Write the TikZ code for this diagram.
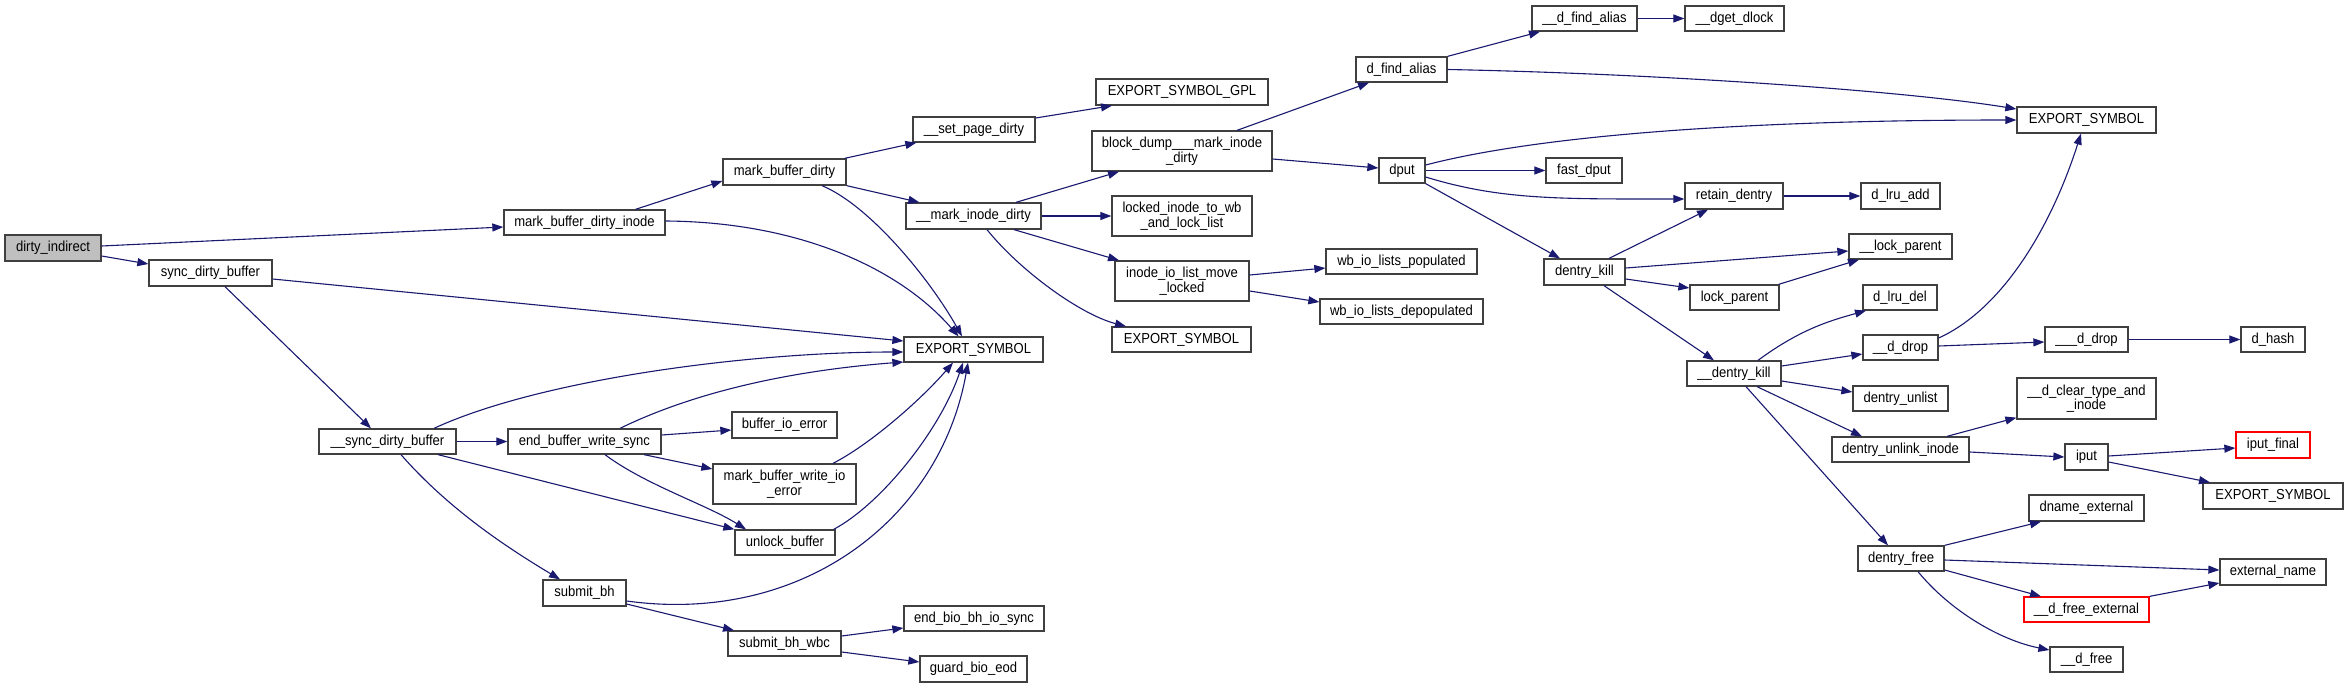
\documentclass[tikz,border=0pt]{standalone}
\usepackage{fontspec}
\setmainfont{Liberation Sans}[FakeStretch=0.9]
\usetikzlibrary{arrows.meta,calc}
\definecolor{edgec}{HTML}{191970}
\definecolor{bord}{HTML}{404040}
\newcommand{\nd}[6]{\node[#1,minimum width=#4pt,minimum height=#5pt] (#2) at (#3) {#6};}
\begin{document}
\begin{tikzpicture}[x=1pt,y=-1pt,
 box/.style={draw=bord, line width=1.3pt, rectangle, inner sep=0pt, font=\fontsize{14.5}{14.5}\selectfont, align=center, fill=white},
 root/.style={box, fill=black!25},
 redbox/.style={box, draw=red},
 e/.style={draw=edgec, line width=1.1pt, -{Triangle[length=11pt,width=8pt]}},
]
\useasboundingbox[fill=white] (0,0) rectangle (2348,688);
% nodes
\nd{root}{di}{53,248}{96}{26}{dirty\_indirect}
\nd{box}{sdb}{210.5,273}{123}{26}{sync\_dirty\_buffer}
\nd{box}{mbdi}{584.5,222.5}{161}{25}{mark\_buffer\_dirty\_inode}
\nd{box}{es1}{973.5,349.5}{139}{25}{EXPORT\_SYMBOL}
\nd{box}{usdb}{387.5,441.5}{137}{25}{\_\_sync\_dirty\_buffer}
\nd{box}{ebws}{584.5,441.5}{153}{25}{end\_buffer\_write\_sync}
\nd{box}{bie}{784.5,425}{105}{26}{buffer\_io\_error}
\nd{box}{mbwie}{784.5,484}{143}{40}{mark\_buffer\_write\_io\\\_error}
\nd{box}{ub}{785,542.5}{100}{25}{unlock\_buffer}
\nd{box}{sbh}{584.5,593}{83}{26}{submit\_bh}
\nd{box}{sbw}{784.5,643.5}{113}{25}{submit\_bh\_wbc}
\nd{box}{ebb}{974,618.5}{140}{25}{end\_bio\_bh\_io\_sync}
\nd{box}{gbe}{973.5,669}{107}{26}{guard\_bio\_eod}
\nd{box}{mbd}{784.5,172}{123}{26}{mark\_buffer\_dirty}
\nd{box}{spd}{974,129.5}{122}{25}{\_\_set\_page\_dirty}
\nd{box}{mid}{973.5,216}{135}{26}{\_\_mark\_inode\_dirty}
\nd{box}{esg}{1182,92}{172}{26}{EXPORT\_SYMBOL\_GPL}
\nd{box}{bd}{1182,151}{180}{40}{block\_dump\_\_\_mark\_inode\\\_dirty}
\nd{box}{dfa}{1401.5,69.5}{91}{25}{d\_find\_alias}
\nd{box}{dput}{1402,170.5}{46}{25}{dput}
\nd{box}{lit}{1182,216}{140}{40}{locked\_inode\_to\_wb\\\_and\_lock\_list}
\nd{box}{iolm}{1182,281}{134}{40}{inode\_io\_list\_move\\\_locked}
\nd{box}{es2}{1181.5,339.5}{139}{25}{EXPORT\_SYMBOL}
\nd{box}{wbp}{1401.5,261.5}{151}{25}{wb\_io\_lists\_populated}
\nd{box}{wbd}{1401.5,311.5}{163}{25}{wb\_io\_lists\_depopulated}
\nd{box}{udfa}{1584.5,18.5}{105}{25}{\_\_d\_find\_alias}
\nd{box}{dget}{1734.5,18.5}{99}{25}{\_\_dget\_dlock}
\nd{box}{es3}{2086.5,120}{139}{26}{EXPORT\_SYMBOL}
\nd{box}{fd}{1584,170.5}{76}{25}{fast\_dput}
\nd{box}{rd}{1734,196}{98}{26}{retain\_dentry}
\nd{box}{dla}{1900.5,196}{79}{26}{d\_lru\_add}
\nd{box}{ulp}{1900.5,246.5}{103}{25}{\_\_lock\_parent}
\nd{box}{dk}{1584.5,272}{81}{26}{dentry\_kill}
\nd{box}{lp}{1734.5,297.5}{89}{25}{lock\_parent}
\nd{box}{dld}{1900,297.5}{74}{25}{d\_lru\_del}
\nd{box}{udd}{1900.5,347.5}{75}{25}{\_\_d\_drop}
\nd{box}{uudd}{2086.5,339.5}{83}{25}{\_\_\_d\_drop}
\nd{box}{dh}{2273,339.5}{64}{25}{d\_hash}
\nd{box}{udk}{1734,373.5}{94}{25}{\_\_dentry\_kill}
\nd{box}{du}{1900.5,398.5}{95}{25}{dentry\_unlist}
\nd{box}{dct}{2086.5,398.5}{139}{41}{\_\_d\_clear\_type\_and\\\_inode}
\nd{box}{dui}{1900.5,449.5}{137}{25}{dentry\_unlink\_inode}
\nd{box}{iput}{2086.5,457}{43}{26}{iput}
\nd{redbox}{ifn}{2273,445}{74}{26}{iput\_final}
\nd{box}{es4}{2273,496}{140}{26}{EXPORT\_SYMBOL}
\nd{box}{dne}{2086.5,508}{115}{26}{dname\_external}
\nd{box}{df}{1901,558.5}{86}{25}{dentry\_free}
\nd{box}{en}{2273,572}{106}{26}{external\_name}
\nd{redbox}{dfe}{2086.5,609.5}{125}{25}{\_\_d\_free\_external}
\nd{box}{udf}{2086.5,659.5}{73}{25}{\_\_d\_free}
% edges
\draw[e] ($(di.east)+(0,-2)$) -- ($(mbdi.west)+(0,4.5)$);
\draw[e] ($(di.east)+(0,8)$) -- ($(sdb.west)+(0,-9)$);
\draw[e] ($(mbdi.north)+(51,0)$) -- ($(mbd.west)+(0,9)$);
\draw[e] ($(mbdi.east)+(0,-1.5)$) .. controls +(135,1) and +(-58,-67) .. ($(es1.north)+(-15,0)$);
\draw[e] ($(sdb.east)+(0,6)$) -- ($(es1.west)+(0,-8.5)$);
\draw[e] ($(sdb.south)+(14.5,0)$) -- ($(usdb.north)+(-16.5,0)$);
\draw[e] ($(mbd.north east)+(-2,0)$) -- ($(spd.south west)+(4,0)$);
\draw[e] (mbd.south east) -- ($(mid.north west)+(14,0)$);
\draw[e] ($(mbd.south)+(37.5,0)$) .. controls +(48,20) and +(-32,-57) .. ($(es1.north)+(-11.5,0)$);
\draw[e] ($(spd.east)+(0,-11.5)$) -- ($(esg.south)+(-70,0)$);
\draw[e] ($(mid.north)+(42.5,0)$) -- ($(bd.south)+(-63,0)$);
\draw[e] (mid.east) -- (lit.west);
\draw[e] ($(mid.south)+(40.5,0)$) -- ($(iolm.north)+(-63,0)$);
\draw[e] ($(mid.south)+(13.5,0)$) .. controls +(33,41) and +(-46,-12) .. ($(es2.north)+(-55.5,0)$);
\draw[e] ($(bd.north)+(55,0)$) -- ($(dfa.south)+(-32.5,0)$);
\draw[e] ($(bd.east)+(0,8)$) -- ($(dput.west)+(0,-2.5)$);
\draw[e] (dfa.north east) -- ($(udfa.south)+(-44.5,0)$);
\draw[e] (dfa.east) .. controls +(203,4) and +(-117,-19) .. ($(es3.west)+(0,-11)$);
\draw[e] (udfa.east) -- (dget.west);
\draw[e] ($(dput.east)+(0,-5.5)$) .. controls +(115,-30) and +(-267,0) .. (es3.west);
\draw[e] (dput.east) -- (fd.west);
\draw[e] ($(dput.east)+(0,6.5)$) .. controls +(75,23) and +(-125,0) .. ($(rd.west)+(0,3)$);
\draw[e] (dput.south east) -- ($(dk.north)+(-24.5,0)$);
\draw[e] (rd.east) -- (dla.west);
\draw[e] ($(dk.north)+(24.5,0)$) -- ($(rd.south)+(-26,0)$);
\draw[e] ($(dk.east)+(0,-4)$) -- ($(ulp.west)+(0,4.5)$);
\draw[e] ($(dk.east)+(0,7)$) -- ($(lp.west)+(0,-9.5)$);
\draw[e] ($(lp.north east)+(-1,0)$) -- ($(ulp.south)+(-41.5,0)$);
\draw[e] ($(dk.south)+(19.5,0)$) -- ($(udk.north)+(-20,0)$);
\draw[e] ($(udk.north)+(24,0)$) .. controls +(42,-31) and +(-36,10) .. ($(dld.south)+(-34,0)$);
\draw[e] ($(udk.east)+(0,-7.5)$) -- ($(udd.west)+(0,6.5)$);
\draw[e] ($(udd.east)+(0,-9.5)$) .. controls +(62,-28) and +(-31,97) .. ($(es3.south)+(-5.5,0)$);
\draw[e] ($(udd.east)+(0,-1.5)$) -- ($(uudd.west)+(0,2.5)$);
\draw[e] (uudd.east) -- (dh.west);
\draw[e] ($(udk.east)+(0,7.5)$) -- ($(du.west)+(0,-6.5)$);
\draw[e] ($(udk.south)+(23,0)$) -- ($(dui.north)+(-38.5,0)$);
\draw[e] ($(udk.south)+(12,0)$) -- ($(df.north)+(-13,0)$);
\draw[e] ($(dui.north)+(46.5,0)$) -- ($(dct.south west)+(0,-2)$);
\draw[e] ($(dui.east)+(0,2.5)$) -- (iput.west);
\draw[e] ($(iput.east)+(0,-1)$) -- ($(ifn.west)+(0,3)$);
\draw[e] ($(iput.east)+(0,5)$) -- ($(es4.north)+(-63,0)$);
\draw[e] (df.north east) -- ($(dne.south)+(-45.5,0)$);
\draw[e] ($(df.east)+(0,1.5)$) -- ($(en.west)+(0,-2)$);
\draw[e] ($(df.east)+(0,11.5)$) -- ($(dfe.north)+(-45.5,0)$);
\draw[e] ($(df.south)+(17,0)$) .. controls +(32,39) and +(-50,-10) .. ($(udf.west)+(0,-9.5)$);
\draw[e] (dfe.north east) -- ($(en.west)+(0,11)$);
\draw[e] ($(iolm.east)+(0,-6)$) -- ($(wbp.west)+(0,6.5)$);
\draw[e] ($(iolm.east)+(0,10)$) -- ($(wbd.west)+(0,-9.5)$);
\draw[e] ($(usdb.north)+(46.5,0)$) .. controls +(106,-49) and +(-154,0) .. ($(es1.west)+(0,2.5)$);
\draw[e] (usdb.east) -- (ebws.west);
\draw[e] ($(usdb.south)+(50.5,0)$) -- (ub.north west);
\draw[e] ($(usdb.south)+(13.5,0)$) .. controls +(49,56) and +(-50,-30) .. ($(sbh.north)+(-24.5,0)$);
\draw[e] ($(ebws.north)+(35.5,0)$) .. controls +(80,-39) and +(-104,8) .. ($(es1.west)+(0,12.5)$);
\draw[e] ($(ebws.east)+(0,-6.5)$) -- ($(bie.west)+(0,5)$);
\draw[e] ($(ebws.south)+(59.5,0)$) -- ($(mbwie.west)+(0,-15)$);
\draw[e] ($(ebws.south)+(20.5,0)$) .. controls +(40,30) and +(-40,-25) .. ($(ub.north)+(-39,0)$);
\draw[e] ($(mbwie.north)+(48.5,0)$) .. controls +(37,-19) and +(-33,38) .. ($(es1.south)+(-20.5,0)$);
\draw[e] ($(ub.north east)+(-2,0)$) .. controls +(47,-25) and +(-23,68) .. ($(es1.south)+(-10.5,0)$);
\draw[e] ($(sbh.east)+(0,8)$) .. controls +(174,24) and +(-28,158) .. ($(es1.south)+(-5.5,0)$);
\draw[e] ($(sbh.east)+(0,11)$) -- ($(sbw.north)+(-50.5,0)$);
\draw[e] ($(sbw.east)+(0,-7.5)$) -- ($(ebb.west)+(0,9.5)$);
\draw[e] ($(sbw.east)+(0,8.5)$) -- ($(gbe.west)+(0,-7)$);
\end{tikzpicture}
\end{document}
